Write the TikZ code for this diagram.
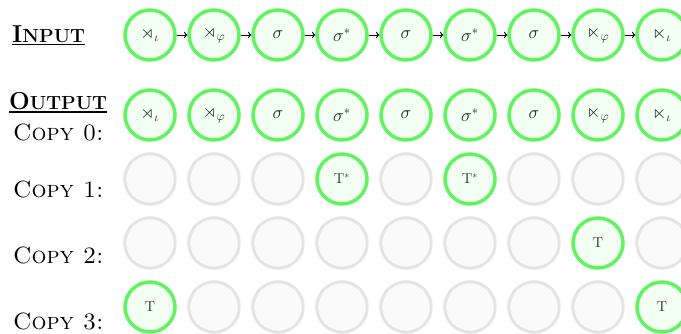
\documentclass[tikz,border=0pt]{standalone}
\usepackage{amssymb}
\usepackage{graphicx}
\usetikzlibrary{arrows.meta}
\definecolor{gline}{RGB}{96,245,96}
\definecolor{gfill}{RGB}{242,255,242}
\definecolor{eline}{RGB}{228,228,228}
\definecolor{efill}{RGB}{250,250,250}
\tikzset{
 on/.style={circle,draw=gline,fill=gfill,line width=3.5pt,minimum size=50pt,inner sep=0pt,font=\fontsize{14.4}{16}\selectfont,text=black!85},
 off/.style={circle,draw=eline,fill=efill,line width=3pt,minimum size=50.5pt,inner sep=0pt},
 lbl/.style={anchor=base west,inner sep=0pt,font=\fontsize{23.5}{28}\selectfont},
 link/.style={-{To[length=3.2pt,width=6.5pt]},line width=0.9pt},
 uline/.style={line width=1.2pt}
}
\newcommand{\bigsc}[2]{{\fontsize{24.5}{30}\selectfont #1}{\fontsize{19}{24}\selectfont #2}}
\newcommand{\mth}[1]{\scalebox{1.25}{$#1$}}
\begin{document}
\begin{tikzpicture}[x=1pt,y=-1pt]
\useasboundingbox (0,0) rectangle (681,333);
% labels
\node[lbl,font=\bfseries] (inlab) at (12,42) {\bigsc{I}{NPUT}};
\draw[uline] ([yshift=-2.5pt]inlab.base west) -- ([yshift=-2.5pt]inlab.base east);
\node[lbl,font=\bfseries] (outlab) at (9,109) {\bigsc{O}{UTPUT}};
\draw[uline] ([yshift=-3pt]outlab.base west) -- ([yshift=-3pt]outlab.base east);
\node[lbl] (c0) at (13,140) {\textsc{Copy 0:}};
\node[lbl] (c1) at (13,197) {\textsc{Copy 1:}};
\node[lbl] (c2) at (13,263) {\textsc{Copy 2:}};
\node[lbl] (c3) at (13,329) {\textsc{Copy 3:}};
% input row
\foreach \t [count=\i] in {{\mth{\rtimes_\iota}},{\mth{\rtimes_\varphi}},{\mth{\sigma}},{\mth{\sigma^*}},{\mth{\sigma}},{\mth{\sigma^*}},{\mth{\sigma}},{\mth{\ltimes_\varphi}},{\mth{\ltimes_\iota}}}
  \node[on] (in\i) at ({86+64*\i},35) {\t};
\foreach \i in {1,...,8}{
  \pgfmathtruncatemacro{\j}{\i+1}
  \draw[link] (in\i) -- (in\j);
}
% copy 0
\foreach \t [count=\i] in {{\mth{\rtimes_\iota}},{\mth{\rtimes_\varphi}},{\mth{\sigma}},{\mth{\sigma^*}},{\mth{\sigma}},{\mth{\sigma^*}},{\mth{\sigma}},{\mth{\ltimes_\varphi}},{\mth{\ltimes_\iota}}}
  \node[on] (a\i) at ({86+64*\i},115) {\t};
% copy 1
\foreach \s/\t [count=\i] in {off/{},off/{},off/{},on/{T$^*$},off/{},on/{T$^*$},off/{},off/{},off/{}}
  \node[\s] (b\i) at ({86+64*\i},179) {\t};
% copy 2
\foreach \s/\t [count=\i] in {off/{},off/{},off/{},off/{},off/{},off/{},off/{},on/{T},off/{}}
  \node[\s] (c\i) at ({86+64*\i},243) {\t};
% copy 3
\foreach \s/\t [count=\i] in {on/{T},off/{},off/{},off/{},off/{},off/{},off/{},off/{},on/{T}}
  \node[\s] (d\i) at ({86+64*\i},307) {\t};
\end{tikzpicture}
\end{document}
